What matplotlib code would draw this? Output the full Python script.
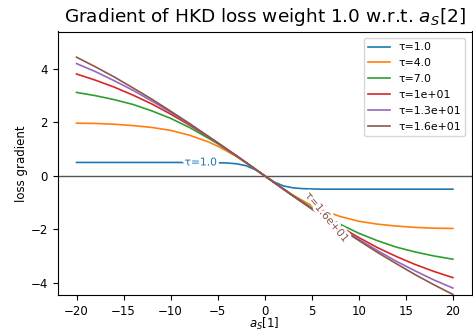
import matplotlib
matplotlib.use("Agg")
import matplotlib.pyplot as plt
import matplotlib.patheffects as pe

# values
x = [-20, -18, -16, -14, -12, -10, -8, -6, -5, -4, -3, -2, -1, 0,
     1, 2, 3, 4, 5, 6, 8, 10, 12, 14, 16, 18, 20]

taus = ["1.0", "4.0", "7.0", "1e+01", "1.3e+01", "1.6e+01"]

grad_t1 = [0.50, 0.50, 0.50, 0.50, 0.50, 0.50, 0.50, 0.50, 0.49, 0.48, 0.45, 0.38, 0.23, 0.00,
           -0.23, -0.38, -0.45, -0.48, -0.49, -0.50, -0.50, -0.50, -0.50, -0.50, -0.50, -0.50, -0.50]
grad_t4 = [1.97, 1.96, 1.93, 1.88, 1.81, 1.70, 1.52, 1.27, 1.11, 0.92, 0.72, 0.49, 0.25, 0.00,
           -0.25, -0.49, -0.72, -0.92, -1.11, -1.27, -1.52, -1.70, -1.81, -1.88, -1.93, -1.96, -1.97]
grad_t7 = [3.12, 3.00, 2.85, 2.67, 2.43, 2.15, 1.81, 1.41, 1.20, 0.97, 0.74, 0.50, 0.25, 0.00,
           -0.25, -0.50, -0.74, -0.97, -1.20, -1.41, -1.81, -2.15, -2.43, -2.67, -2.85, -3.00, -3.12]
grad_t10 = [3.81, 3.58, 3.32, 3.02, 2.69, 2.31, 1.90, 1.46, 1.23, 0.99, 0.75, 0.50, 0.25, 0.00,
            -0.25, -0.50, -0.75, -0.99, -1.23, -1.46, -1.90, -2.31, -2.69, -3.02, -3.32, -3.58, -3.81]
grad_t13 = [4.20, 3.90, 3.56, 3.20, 2.80, 2.38, 1.94, 1.47, 1.23, 0.99, 0.75, 0.50, 0.25, 0.00,
            -0.25, -0.50, -0.75, -0.99, -1.23, -1.47, -1.94, -2.38, -2.80, -3.20, -3.56, -3.90, -4.20]
grad_t16 = [4.44, 4.08, 3.70, 3.29, 2.87, 2.42, 1.96, 1.48, 1.24, 0.99, 0.75, 0.50, 0.25, 0.00,
            -0.25, -0.50, -0.75, -0.99, -1.24, -1.48, -1.96, -2.42, -2.87, -3.29, -3.70, -4.08, -4.44]

grads = [grad_t1, grad_t4, grad_t7, grad_t10, grad_t13, grad_t16]
colors = ["tab:blue", "tab:orange", "tab:green", "tab:red", "tab:purple", "tab:brown"]

#%% PLOT
fig = plt.figure(figsize=(4.73, 3.33), dpi=100)
ax = fig.add_axes([57.7 / 473, 1 - 295 / 333, 414 / 473, 263.5 / 333])

ax.axhline(0, color="#555555", lw=1.0, zorder=1)
for t, g, c in zip(taus, grads, colors):
    ax.plot(x, g, color=c, lw=1.2, label="τ=" + t, zorder=2)

# inline labels with white outline, like labellines does
outline = [pe.withStroke(linewidth=4, foreground="white")]
ax.text(-6.8, 0.50, "τ=1.0", color="tab:blue", fontsize=7.7, ha="center", va="center",
        path_effects=outline, zorder=3)
ax.text(6.6, -1.55, "τ=1.6e+01", color="tab:brown", fontsize=7.7, ha="center", va="center",
        rotation=-50, rotation_mode="anchor", path_effects=outline, zorder=3)

ax.set_xlim(-22, 22)
ax.set_ylim(-4.46, 5.40)
ax.set_xticks([-20, -15, -10, -5, 0, 5, 10, 15, 20])
ax.set_yticks([-4, -2, 0, 2, 4])
ax.tick_params(labelsize=8.5)
ax.set_xlabel("$a_S$[1]", fontsize=8.5, labelpad=-1)
ax.set_ylabel("loss gradient", fontsize=8.5, labelpad=2)
ax.set_title("Gradient of HKD loss weight 1.0 w.r.t. $a_S$[2]", fontsize=13.3, pad=7)
ax.legend(loc="upper right", fontsize=7.8, labelspacing=0.55, borderaxespad=0.6)

fig.savefig("out.png", dpi=100)
